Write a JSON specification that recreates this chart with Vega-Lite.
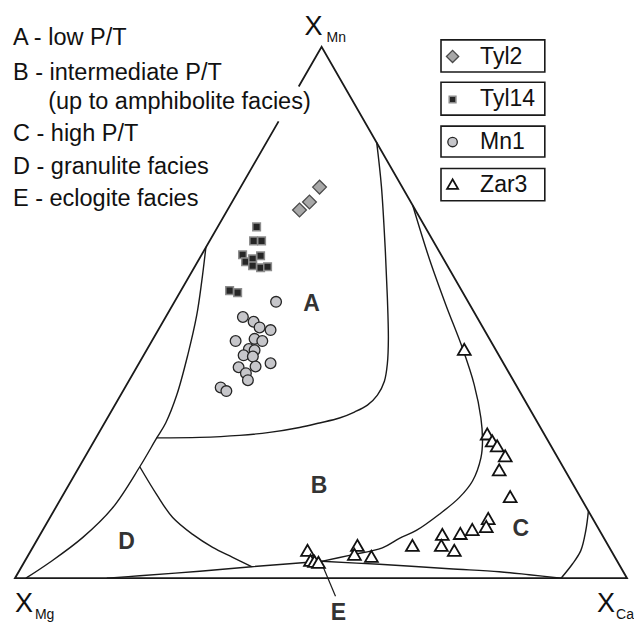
{
  "$schema": "https://vega.github.io/schema/vega-lite/v6.json",
  "width": 634,
  "height": 625,
  "autosize": {"type": "fit", "contains": "padding"},
  "padding": 0,
  "background": "white",
  "config": {"view": {"stroke": null}},
  "datasets": {
    "lines": [
      {"id": "tri", "o": 0, "x": 43.07, "y": 74.88},
      {"id": "tri", "o": 1, "x": 0, "y": 0},
      {"id": "tri", "o": 2, "x": 100, "y": 0},
      {"id": "tri", "o": 3, "x": 50.1, "y": 87.1},
      {"id": "tri", "o": 4, "x": 46.36, "y": 80.59},
      {"id": "L1", "o": 0, "x": 31.2, "y": 54.3},
      {"id": "L1", "o": 1, "x": 30.51, "y": 48.61},
      {"id": "L1", "o": 2, "x": 29.69, "y": 43.07},
      {"id": "L1", "o": 3, "x": 28.22, "y": 36.54},
      {"id": "L1", "o": 4, "x": 26.43, "y": 30.02},
      {"id": "L1", "o": 5, "x": 24.63, "y": 25.45},
      {"id": "L1", "o": 6, "x": 23.16, "y": 23.0},
      {"id": "L1", "o": 7, "x": 20.39, "y": 18.27},
      {"id": "L1", "o": 8, "x": 15.99, "y": 11.58},
      {"id": "L1", "o": 9, "x": 11.09, "y": 6.69},
      {"id": "L1", "o": 10, "x": 5.71, "y": 2.61},
      {"id": "L1", "o": 11, "x": 1.79, "y": 0},
      {"id": "L2", "o": 0, "x": 23.16, "y": 23.0},
      {"id": "L2", "o": 1, "x": 30.18, "y": 23.08},
      {"id": "L2", "o": 2, "x": 36.7, "y": 23.41},
      {"id": "L2", "o": 3, "x": 41.6, "y": 23.9},
      {"id": "L2", "o": 4, "x": 46.49, "y": 24.71},
      {"id": "L2", "o": 5, "x": 49.76, "y": 25.45},
      {"id": "L2", "o": 6, "x": 53.02, "y": 26.26},
      {"id": "L2", "o": 7, "x": 55.46, "y": 27.24},
      {"id": "L2", "o": 8, "x": 57.59, "y": 28.38},
      {"id": "L2", "o": 9, "x": 59.22, "y": 30.02},
      {"id": "L2", "o": 10, "x": 60.36, "y": 32.3},
      {"id": "L2", "o": 11, "x": 60.85, "y": 35.24},
      {"id": "L2", "o": 12, "x": 61.01, "y": 39.31},
      {"id": "L2", "o": 13, "x": 60.85, "y": 45.84},
      {"id": "L2", "o": 14, "x": 60.52, "y": 53.51},
      {"id": "L2", "o": 15, "x": 59.87, "y": 64.27},
      {"id": "L2", "o": 16, "x": 59.1, "y": 71.45},
      {"id": "L3", "o": 0, "x": 20.39, "y": 18.27},
      {"id": "L3", "o": 1, "x": 23.16, "y": 13.7},
      {"id": "L3", "o": 2, "x": 25.77, "y": 9.95},
      {"id": "L3", "o": 3, "x": 29.04, "y": 7.18},
      {"id": "L3", "o": 4, "x": 32.3, "y": 5.06},
      {"id": "L3", "o": 5, "x": 35.56, "y": 3.43},
      {"id": "L3", "o": 6, "x": 38.66, "y": 1.88},
      {"id": "L4", "o": 0, "x": 15.01, "y": 0},
      {"id": "L4", "o": 1, "x": 20.39, "y": 0.41},
      {"id": "L4", "o": 2, "x": 30.18, "y": 1.14},
      {"id": "L4", "o": 3, "x": 38.66, "y": 1.88},
      {"id": "L4", "o": 4, "x": 44.86, "y": 2.37},
      {"id": "L4", "o": 5, "x": 50.08, "y": 2.77},
      {"id": "L5", "o": 0, "x": 50.08, "y": 2.77},
      {"id": "L5", "o": 1, "x": 59.54, "y": 2.28},
      {"id": "L5", "o": 2, "x": 70.96, "y": 1.55},
      {"id": "L5", "o": 3, "x": 79.12, "y": 1.06},
      {"id": "L5", "o": 4, "x": 84.01, "y": 0.57},
      {"id": "L5", "o": 5, "x": 89.23, "y": 0},
      {"id": "L6", "o": 0, "x": 65.01, "y": 61.06},
      {"id": "L6", "o": 1, "x": 67.7, "y": 52.37},
      {"id": "L6", "o": 2, "x": 70.42, "y": 44.75},
      {"id": "L6", "o": 3, "x": 73.13, "y": 37.68},
      {"id": "L6", "o": 4, "x": 75.04, "y": 31.7},
      {"id": "L6", "o": 5, "x": 76.13, "y": 26.26},
      {"id": "L6", "o": 6, "x": 76.39, "y": 22.46},
      {"id": "L6", "o": 7, "x": 76.13, "y": 19.74},
      {"id": "L6", "o": 8, "x": 74.76, "y": 15.94},
      {"id": "L6", "o": 9, "x": 72.59, "y": 13.21},
      {"id": "L6", "o": 10, "x": 69.33, "y": 10.49},
      {"id": "L6", "o": 11, "x": 65.58, "y": 7.83},
      {"id": "L6", "o": 12, "x": 62.81, "y": 6.53},
      {"id": "L6", "o": 13, "x": 60.03, "y": 4.98},
      {"id": "L6", "o": 14, "x": 54.65, "y": 3.75},
      {"id": "L6", "o": 15, "x": 50.08, "y": 2.77},
      {"id": "L7", "o": 0, "x": 93.7, "y": 11.04},
      {"id": "L7", "o": 1, "x": 93.26, "y": 7.78},
      {"id": "L7", "o": 2, "x": 92.45, "y": 4.52},
      {"id": "L7", "o": 3, "x": 91.08, "y": 2.33},
      {"id": "L7", "o": 4, "x": 89.23, "y": 0},
      {"id": "lead", "o": 0, "x": 50.24, "y": 2.12},
      {"id": "lead", "o": 1, "x": 52.37, "y": -2.94}
    ],
    "pts": [
      {"s": "Tyl2", "x": 49.76, "y": 64.11},
      {"s": "Tyl2", "x": 48.12, "y": 61.66},
      {"s": "Tyl2", "x": 46.49, "y": 60.36},
      {"s": "Tyl14", "x": 39.48, "y": 57.59},
      {"s": "Tyl14", "x": 38.99, "y": 55.3},
      {"s": "Tyl14", "x": 40.29, "y": 55.3},
      {"s": "Tyl14", "x": 37.19, "y": 53.02},
      {"s": "Tyl14", "x": 40.13, "y": 52.85},
      {"s": "Tyl14", "x": 37.68, "y": 51.88},
      {"s": "Tyl14", "x": 38.83, "y": 52.37},
      {"s": "Tyl14", "x": 38.83, "y": 51.22},
      {"s": "Tyl14", "x": 40.13, "y": 50.9},
      {"s": "Tyl14", "x": 41.27, "y": 51.06},
      {"s": "Tyl14", "x": 35.07, "y": 47.15},
      {"s": "Tyl14", "x": 36.38, "y": 46.82},
      {"s": "Mn1", "x": 42.66, "y": 45.3},
      {"s": "Mn1", "x": 37.24, "y": 42.82},
      {"s": "Mn1", "x": 38.99, "y": 42.04},
      {"s": "Mn1", "x": 39.97, "y": 41.11},
      {"s": "Mn1", "x": 41.76, "y": 40.67},
      {"s": "Mn1", "x": 36.05, "y": 38.87},
      {"s": "Mn1", "x": 39.15, "y": 39.23},
      {"s": "Mn1", "x": 40.41, "y": 38.87},
      {"s": "Mn1", "x": 38.22, "y": 37.57},
      {"s": "Mn1", "x": 39.15, "y": 37.36},
      {"s": "Mn1", "x": 37.36, "y": 36.54},
      {"s": "Mn1", "x": 38.87, "y": 36.33},
      {"s": "Mn1", "x": 41.76, "y": 35.24},
      {"s": "Mn1", "x": 36.54, "y": 34.58},
      {"s": "Mn1", "x": 39.31, "y": 34.7},
      {"s": "Mn1", "x": 37.73, "y": 33.61},
      {"s": "Mn1", "x": 38.06, "y": 32.46},
      {"s": "Mn1", "x": 33.61, "y": 31.27},
      {"s": "Mn1", "x": 34.54, "y": 30.67},
      {"s": "Zar3", "x": 73.41, "y": 37.52},
      {"s": "Zar3", "x": 77.16, "y": 23.65},
      {"s": "Zar3", "x": 77.98, "y": 22.51},
      {"s": "Zar3", "x": 78.79, "y": 21.7},
      {"s": "Zar3", "x": 80.1, "y": 20.07},
      {"s": "Zar3", "x": 79.12, "y": 17.78},
      {"s": "Zar3", "x": 80.91, "y": 13.38},
      {"s": "Zar3", "x": 77.32, "y": 9.79},
      {"s": "Zar3", "x": 77.0, "y": 8.48},
      {"s": "Zar3", "x": 74.71, "y": 7.99},
      {"s": "Zar3", "x": 72.76, "y": 7.34},
      {"s": "Zar3", "x": 69.82, "y": 7.18},
      {"s": "Zar3", "x": 69.66, "y": 5.38},
      {"s": "Zar3", "x": 71.78, "y": 4.57},
      {"s": "Zar3", "x": 64.93, "y": 5.38},
      {"s": "Zar3", "x": 47.8, "y": 4.57},
      {"s": "Zar3", "x": 55.95, "y": 5.38},
      {"s": "Zar3", "x": 55.46, "y": 3.92},
      {"s": "Zar3", "x": 58.24, "y": 3.59},
      {"s": "Zar3", "x": 48.29, "y": 2.94},
      {"s": "Zar3", "x": 48.94, "y": 2.77},
      {"s": "Zar3", "x": 49.59, "y": 2.61}
    ],
    "legbox": [
      {"s": "Tyl2", "x": 69.61, "x2": 86.57, "y": 88.25, "y2": 82.98},
      {"s": "Tyl14", "x": 69.61, "x2": 86.57, "y": 81.29, "y2": 75.91},
      {"s": "Mn1", "x": 69.61, "x2": 86.57, "y": 74.11, "y2": 69.05},
      {"s": "Zar3", "x": 69.61, "x2": 86.57, "y": 67.16, "y2": 61.88}
    ],
    "legsym": [
      {"s": "Tyl2", "x": 71.5, "y": 85.53},
      {"s": "Tyl14", "x": 71.5, "y": 78.47},
      {"s": "Mn1", "x": 71.5, "y": 71.5},
      {"s": "Zar3", "x": 71.5, "y": 64.6}
    ],
    "legtext": [
      {"t": "Tyl2", "x": 76.0, "y": 84.34},
      {"t": "Tyl14", "x": 76.0, "y": 77.37},
      {"t": "Mn1", "x": 76.0, "y": 70.31},
      {"t": "Zar3", "x": 76.0, "y": 63.25}
    ],
    "notes": [
      {"t": "A - low P/T", "x": -0.33, "y": 87.44},
      {"t": "B - intermediate P/T", "x": -0.33, "y": 81.73},
      {"t": "(up to amphibolite facies)", "x": 5.43, "y": 76.84},
      {"t": "C - high P/T", "x": -0.33, "y": 71.62},
      {"t": "D - granulite facies", "x": -0.33, "y": 66.23},
      {"t": "E - eclogite facies", "x": -0.33, "y": 61.01}
    ],
    "fields": [
      {"t": "A", "x": 48.45, "y": 43.88},
      {"t": "B", "x": 49.67, "y": 14.03},
      {"t": "C", "x": 82.66, "y": 6.97},
      {"t": "D", "x": 18.22, "y": 4.78},
      {"t": "E", "x": 52.85, "y": -6.85}
    ],
    "apexX": [
      {"t": "X", "x": 47.31, "y": 89.07},
      {"t": "X", "x": 0, "y": -5.55},
      {"t": "X", "x": 95.11, "y": -5.55}
    ],
    "apexSub": [
      {"t": "Mn", "x": 50.9, "y": 87.93},
      {"t": "Mg", "x": 3.26, "y": -6.69},
      {"t": "Ca", "x": 98.21, "y": -6.69}
    ]
  },
  "encoding": {
    "x": {"field": "x", "type": "quantitative", "scale": {"domain": [-2.447, 100.98], "nice": false, "zero": false}, "axis": null},
    "y": {"field": "y", "type": "quantitative", "scale": {"domain": [-7.178, 94.78], "nice": false, "zero": false}, "axis": null}
  },
  "layer": [
    {
      "data": {"name": "lines"},
      "transform": [{"filter": "datum.id === 'tri'"}],
      "mark": {"type": "line", "color": "#1a1a1a", "strokeWidth": 1.8, "interpolate": "linear"},
      "encoding": {"detail": {"field": "id"}, "order": {"field": "o", "type": "quantitative"}}
    },
    {
      "data": {"name": "lines"},
      "transform": [{"filter": "datum.id !== 'tri' && datum.id !== 'lead'"}],
      "mark": {"type": "line", "color": "#1a1a1a", "strokeWidth": 1.4, "interpolate": "catmull-rom"},
      "encoding": {"detail": {"field": "id"}, "order": {"field": "o", "type": "quantitative"}}
    },
    {
      "data": {"name": "lines"},
      "transform": [{"filter": "datum.id === 'lead'"}],
      "mark": {"type": "line", "color": "#1a1a1a", "strokeWidth": 1.2},
      "encoding": {"detail": {"field": "id"}, "order": {"field": "o", "type": "quantitative"}}
    },
    {
      "data": {"name": "pts"},
      "transform": [{"filter": "datum.s === 'Tyl2'"}],
      "mark": {"type": "point", "shape": "diamond", "filled": true, "fill": "#a8a8a8", "stroke": "#4a4a4a", "strokeWidth": 1.3, "size": 190, "opacity": 1}
    },
    {
      "data": {"name": "pts"},
      "transform": [{"filter": "datum.s === 'Tyl14'"}],
      "mark": {"type": "point", "shape": "square", "filled": true, "fill": "#262626", "stroke": "#8c8c8c", "strokeWidth": 1.5, "size": 58, "opacity": 1}
    },
    {
      "data": {"name": "pts"},
      "transform": [{"filter": "datum.s === 'Mn1'"}],
      "mark": {"type": "point", "shape": "circle", "filled": true, "fill": "#c6c6ca", "stroke": "#262626", "strokeWidth": 1.3, "size": 115, "opacity": 1}
    },
    {
      "data": {"name": "pts"},
      "transform": [{"filter": "datum.s === 'Zar3'"}],
      "mark": {"type": "point", "shape": "triangle-up", "filled": true, "fill": "white", "stroke": "#111111", "strokeWidth": 1.8, "size": 165, "opacity": 1}
    },
    {
      "data": {"name": "legbox"},
      "mark": {"type": "rect", "fill": "white", "stroke": "#1a1a1a", "strokeWidth": 1.6},
      "encoding": {"x2": {"field": "x2"}, "y2": {"field": "y2"}}
    },
    {
      "data": {"name": "legsym"},
      "transform": [{"filter": "datum.s === 'Tyl2'"}],
      "mark": {"type": "point", "shape": "diamond", "filled": true, "fill": "#a8a8a8", "stroke": "#4a4a4a", "strokeWidth": 1.3, "size": 150, "opacity": 1}
    },
    {
      "data": {"name": "legsym"},
      "transform": [{"filter": "datum.s === 'Tyl14'"}],
      "mark": {"type": "point", "shape": "square", "filled": true, "fill": "#262626", "stroke": "#8c8c8c", "strokeWidth": 1.5, "size": 45, "opacity": 1}
    },
    {
      "data": {"name": "legsym"},
      "transform": [{"filter": "datum.s === 'Mn1'"}],
      "mark": {"type": "point", "shape": "circle", "filled": true, "fill": "#c6c6ca", "stroke": "#262626", "strokeWidth": 1.3, "size": 90, "opacity": 1}
    },
    {
      "data": {"name": "legsym"},
      "transform": [{"filter": "datum.s === 'Zar3'"}],
      "mark": {"type": "point", "shape": "triangle-up", "filled": true, "fill": "white", "stroke": "#111111", "strokeWidth": 1.8, "size": 120, "opacity": 1}
    },
    {
      "data": {"name": "legtext"},
      "mark": {"type": "text", "font": "Liberation Sans", "fontSize": 23, "align": "left", "baseline": "alphabetic", "color": "#111111"},
      "encoding": {"text": {"field": "t"}}
    },
    {
      "data": {"name": "notes"},
      "mark": {"type": "text", "font": "Liberation Sans", "fontSize": 23.5, "align": "left", "baseline": "alphabetic", "color": "#111111"},
      "encoding": {"text": {"field": "t"}}
    },
    {
      "data": {"name": "fields"},
      "mark": {"type": "text", "font": "Liberation Sans", "fontSize": 23, "fontWeight": "bold", "align": "center", "baseline": "alphabetic", "color": "#333333"},
      "encoding": {"text": {"field": "t"}}
    },
    {
      "data": {"name": "apexX"},
      "mark": {"type": "text", "font": "Liberation Sans", "fontSize": 27, "align": "left", "baseline": "alphabetic", "color": "#111111"},
      "encoding": {"text": {"field": "t"}}
    },
    {
      "data": {"name": "apexSub"},
      "mark": {"type": "text", "font": "Liberation Sans", "fontSize": 14, "align": "left", "baseline": "alphabetic", "color": "#111111"},
      "encoding": {"text": {"field": "t"}}
    }
  ]
}
